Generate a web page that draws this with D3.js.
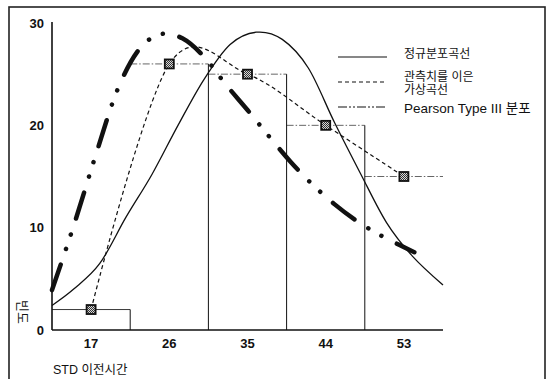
<!DOCTYPE html>
<html>
<head>
<meta charset="utf-8">
<script src="https://cdn.jsdelivr.net/npm/d3@7/dist/d3.min.js"></script>
<style>
  html, body { margin: 0; padding: 0; background: #fff; }
  svg { display: block; }
  text { font-family: "Liberation Sans", Arial, "Noto Sans CJK KR", sans-serif; fill: #111; }
</style>
</head>
<body>
<svg id="chart" width="548" height="379"></svg>
<script>
// Class midpoints of the STD interval (hours) and observed frequencies
const categories = [17, 26, 35, 44, 53];
const frequency = [2, 26, 25, 20, 15];
const binWidth = 9;

// Fitted normal distribution curve
const normalX = [12.5, 15, 18, 21, 24, 27, 30, 33, 36, 39, 42, 45, 48, 51, 54, 57.5];
const normalY = [2.4, 4.0, 6.5, 11.0, 15.2, 20.0, 24.5, 27.9, 29.1, 28.4, 25.6, 20.3, 15.3, 10.5, 7.2, 4.4];

// Fitted Pearson Type III curve
const pearsonX = [12.5, 15, 17.5, 20, 22.5, 25, 27.5, 30, 32.5, 35, 37.5, 40, 42.5, 45, 47.5, 50, 52.5, 54.2];
const pearsonY = [3.9, 10.2, 17.0, 23.4, 27.4, 28.9, 28.5, 26.7, 24.0, 21.5, 18.9, 16.4, 14.2, 12.3, 10.7, 9.4, 8.3, 7.6];

const yTicks = [0, 10, 20, 30];
const legendLabels = [["정규분포곡선"], ["관측치를 이은", "가상곡선"], ["Pearson Type III 분포"]];
const yTitle = "빈도";
const xTitle = "STD 이전시간";

const svg = d3.select("#chart");

const x = d3.scaleLinear().domain([12.5, 57.5]).range([52, 443]);
const y = d3.scaleLinear().domain([0, 30]).range([330, 23]);

// outer frame
svg.append("rect")
  .attr("x", 9).attr("y", 7).attr("width", 536).attr("height", 385)
  .attr("fill", "none").attr("stroke", "#222").attr("stroke-width", 1.6);

// checkered fill for the observation markers
const defs = svg.append("defs");
const pat = defs.append("pattern").attr("id", "checker")
  .attr("width", 2).attr("height", 2).attr("patternUnits", "userSpaceOnUse");
pat.append("rect").attr("width", 2).attr("height", 2).attr("fill", "#d8d8d8");
pat.append("rect").attr("width", 1).attr("height", 1).attr("fill", "#333");
pat.append("rect").attr("x", 1).attr("y", 1).attr("width", 1).attr("height", 1).attr("fill", "#333");

// histogram bars: tops and right edges
const bars = categories.map((c, i) => ({ c, v: frequency[i], x0: c - binWidth / 2, x1: c + binWidth / 2, i }));

svg.append("g").selectAll("line.top").data(bars).join("line")
  .attr("x1", d => x(d.x0)).attr("x2", d => x(d.x1))
  .attr("y1", d => y(d.v)).attr("y2", d => y(d.v))
  .attr("stroke", d => d.i === 0 ? "#222" : "#555")
  .attr("stroke-width", 0.9)
  .attr("stroke-dasharray", d => d.i === 0 ? null : "7,2,1.5,2");

svg.append("g").selectAll("line.side").data(bars.slice(0, bars.length - 1)).join("line")
  .attr("x1", d => x(d.x1)).attr("x2", d => x(d.x1))
  .attr("y1", d => y(d.v)).attr("y2", y(0))
  .attr("stroke", "#111").attr("stroke-width", 1);

// axes
svg.append("line").attr("x1", x(12.5)).attr("x2", x(12.5)).attr("y1", y(30) - 1).attr("y2", y(0))
  .attr("stroke", "#111").attr("stroke-width", 1.6);
svg.append("line").attr("x1", x(12.5)).attr("x2", x(57.5)).attr("y1", y(0)).attr("y2", y(0))
  .attr("stroke", "#111").attr("stroke-width", 1.6);

svg.append("g").selectAll("text").data(yTicks).join("text")
  .attr("x", 44).attr("y", d => y(d))
  .attr("text-anchor", "end").attr("dominant-baseline", "central")
  .attr("font-size", 13).attr("font-weight", "bold")
  .text(d => d);

svg.append("g").selectAll("text").data(categories).join("text")
  .attr("x", d => x(d)).attr("y", 343)
  .attr("text-anchor", "middle").attr("dominant-baseline", "central")
  .attr("font-size", 13).attr("font-weight", "bold")
  .text(d => d);

svg.append("text")
  .attr("transform", "translate(22,312) rotate(90)")
  .attr("text-anchor", "middle").attr("dominant-baseline", "central")
  .attr("font-size", 13).text(yTitle);

svg.append("text")
  .attr("x", 53).attr("y", 370).attr("dominant-baseline", "central")
  .attr("font-size", 12.5).text(xTitle);

// curves
const smooth = d3.line().x(d => x(d[0])).y(d => y(d[1])).curve(d3.curveCardinal.tension(0));

svg.append("path")
  .datum(normalX.map((v, i) => [v, normalY[i]]))
  .attr("d", smooth).attr("fill", "none")
  .attr("stroke", "#111").attr("stroke-width", 1.3);

svg.append("path")
  .datum(categories.map((c, i) => [c, frequency[i]]))
  .attr("d", smooth).attr("fill", "none")
  .attr("stroke", "#111").attr("stroke-width", 1.2).attr("stroke-dasharray", "4,3");

svg.append("path")
  .datum(pearsonX.map((v, i) => [v, pearsonY[i]]))
  .attr("d", smooth).attr("fill", "none")
  .attr("stroke", "#111").attr("stroke-width", 4.5).attr("stroke-linecap", "round")
  .attr("stroke-dasharray", "27,16.5,0.1,15,0.1,17");

// observation markers
svg.append("g").selectAll("rect").data(bars).join("rect")
  .attr("x", d => x(d.c) - 4.5).attr("y", d => y(d.v) - 4.5)
  .attr("width", 9).attr("height", 9)
  .attr("fill", "url(#checker)").attr("stroke", "#111").attr("stroke-width", 1.8);

// legend
const legendLineY = [57, 82, 107];
const legendTextY = [[54], [77, 90], [108]];
const legendSize = [12, 12, 13.5];
const legendDash = [null, "4,3", "9,2,2,2,2,2"];
const lg = svg.append("g");
legendLineY.forEach((ly, i) => {
  lg.append("line").attr("x1", 338).attr("x2", 387).attr("y1", ly).attr("y2", ly)
    .attr("stroke", "#111").attr("stroke-width", 1.2)
    .attr("stroke-dasharray", legendDash[i]);
  legendLabels[i].forEach((t, k) => {
    lg.append("text").attr("x", 404).attr("y", legendTextY[i][k])
      .attr("dominant-baseline", "central").attr("font-size", legendSize[i]).text(t);
  });
});
</script>
</body>
</html>
